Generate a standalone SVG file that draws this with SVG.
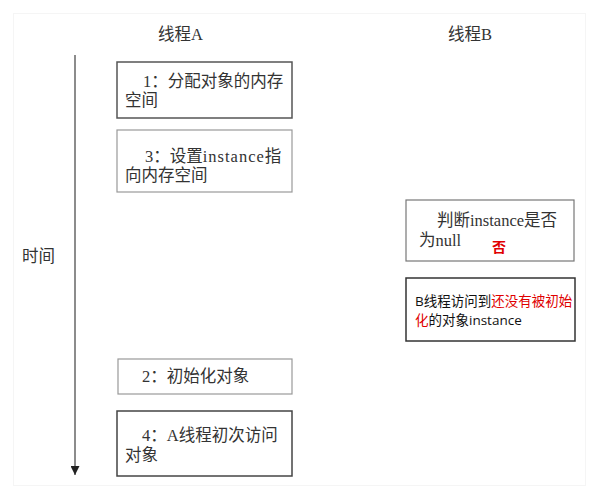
<svg xmlns="http://www.w3.org/2000/svg" width="599" height="500" viewBox="0 0 599 500">
<defs>
<style>
.t{font-family:"Liberation Serif","Noto Sans CJK SC",serif;font-size:16.5px;fill:#333}
.s{font-family:"Open Sans","Noto Sans CJK SC",sans-serif;font-size:13.5px;fill:#111}
.red{fill:#e00000}
.box{fill:#fff}
</style>
<marker id="ah" viewBox="0 0 10 10" refX="10" refY="5" markerWidth="9" markerHeight="9" markerUnits="userSpaceOnUse" orient="auto">
<path d="M0,0 L10,5 L0,10 z" fill="#222"/>
</marker>
</defs>
<rect width="599" height="500" fill="#fff"/>
<rect x="13.5" y="13.5" width="572" height="472" fill="none" stroke="#f5f5f5" stroke-width="1"/>

<g id="header-a"><text class="t" x="158" y="40">线程A</text></g>
<g id="header-b"><text class="t" x="448" y="40">线程B</text></g>
<g id="time-label"><text class="t" x="22" y="262">时间</text></g>

<g id="connectors">
<line x1="75" y1="55" x2="75" y2="475" stroke="#666" stroke-width="1.5" marker-end="url(#ah)"/>
</g>

<g id="a1">
<rect class="box" x="117" y="62" width="175" height="56" stroke="#555" stroke-width="1.5"/>
<text class="t" x="143" y="87">1：分配对象的内存</text>
<text class="t" x="125" y="106">空间</text>
</g>

<g id="a3">
<rect class="box" x="117" y="130" width="175" height="62" stroke="#999" stroke-width="1.2"/>
<text class="t" x="145" y="162">3：设置<tspan letter-spacing="1">instance</tspan>指</text>
<text class="t" x="125" y="181">向内存空间</text>
</g>

<g id="b1">
<rect class="box" x="406" y="200" width="168" height="61" stroke="#777" stroke-width="1.2"/>
<text class="t" x="437" y="226">判断instance是否</text>
<text class="t" x="419" y="246">为null</text>
<text class="s red" x="492" y="252" style="font-weight:bold;font-size:14px">否</text>
</g>

<g id="b2">
<rect class="box" x="406" y="278" width="169" height="63" stroke="#333" stroke-width="1.5"/>
<text class="s" x="415" y="306">B线程访问到<tspan class="red">还没有被初始</tspan></text>
<text class="s" x="415" y="325"><tspan class="red">化</tspan>的对象instance</text>
</g>

<g id="a2">
<rect class="box" x="118" y="359" width="174" height="35" stroke="#999" stroke-width="1.2"/>
<text class="t" x="142" y="382">2：初始化对象</text>
</g>

<g id="a4">
<rect class="box" x="117" y="411" width="175" height="65" stroke="#444" stroke-width="1.5"/>
<text class="t" x="142" y="441">4：A线程初次访问</text>
<text class="t" x="125" y="461">对象</text>
</g>
</svg>
